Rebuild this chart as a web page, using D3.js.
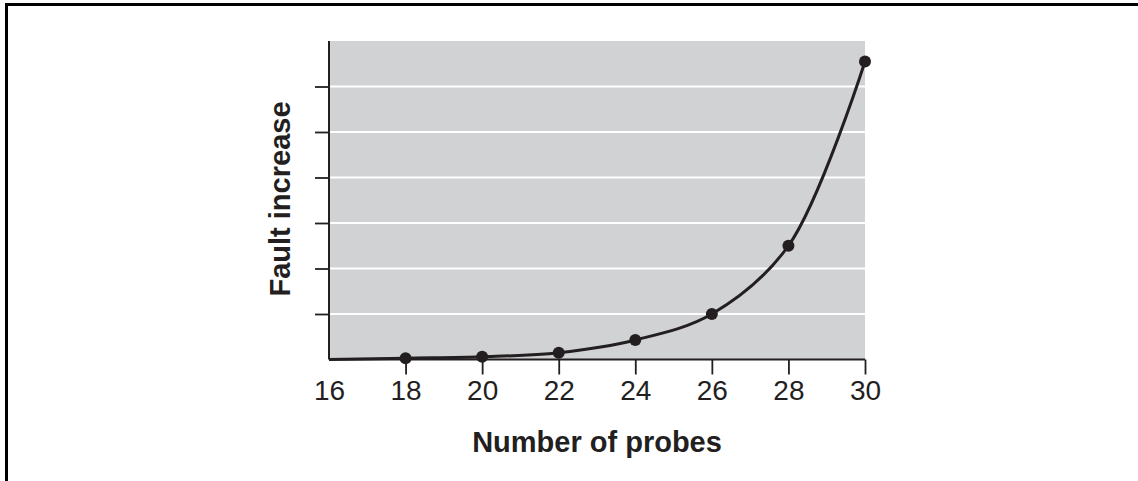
<!DOCTYPE html>
<html>
<head>
<meta charset="utf-8">
<script src="https://cdn.jsdelivr.net/npm/d3@7"></script>
<style>
  body { margin: 0; background: #fff; }
  text { font-family: "Liberation Sans", Arial, sans-serif; fill: #231f20; }
</style>
</head>
<body>
<div id="chart"></div>
<script>
// data
var probes = [16, 18, 20, 22, 24, 26, 28, 30];
var faultIncrease = [0.0, 0.03, 0.06, 0.15, 0.43, 1.0, 2.5, 6.55];
var xTicks = [16, 18, 20, 22, 24, 26, 28, 30];
var yTicks = [1, 2, 3, 4, 5, 6];

var svgWidth = 1138;
var svgHeight = 481;

var margin = { top: 41, left: 329 };
var width = 865 - 329;
var height = 359.5 - 41;

var svg = d3.select("#chart")
  .append("svg")
  .attr("width", svgWidth)
  .attr("height", svgHeight);

// outer frame (runs off right and bottom)
svg.append("rect")
  .attr("x", 6.5)
  .attr("y", 4.5)
  .attr("width", 1300)
  .attr("height", 700)
  .attr("fill", "none")
  .attr("stroke", "#000")
  .attr("stroke-width", 3);

var chartGroup = svg.append("g")
  .attr("transform", `translate(${margin.left}, ${margin.top})`);

var xScale = d3.scaleLinear().domain([16, 30]).range([0, width]);
var yScale = d3.scaleLinear().domain([0, 7]).range([height, 0]);

// grey plot background
chartGroup.append("rect")
  .attr("width", width)
  .attr("height", height)
  .attr("fill", "#d1d2d4");

// white grid lines
chartGroup.selectAll(".grid")
  .data(yTicks)
  .enter()
  .append("line")
  .attr("x1", 0)
  .attr("x2", width)
  .attr("y1", d => yScale(d))
  .attr("y2", d => yScale(d))
  .attr("stroke", "#fff")
  .attr("stroke-width", 2);

// y axis: line and ticks, no labels
var leftAxis = d3.axisLeft(yScale).tickValues(yTicks).tickSize(14).tickFormat("");
var yAxis = chartGroup.append("g").call(leftAxis);
yAxis.select(".domain").remove();
yAxis.selectAll("line").attr("stroke", "#231f20").attr("stroke-width", 1.8);
chartGroup.append("line")
  .attr("x1", 0).attr("x2", 0)
  .attr("y1", 0).attr("y2", height)
  .attr("stroke", "#231f20")
  .attr("stroke-width", 2);

// x axis
var bottomAxis = d3.axisBottom(xScale).tickValues(xTicks).tickSize(15).tickPadding(6);
var xAxis = chartGroup.append("g")
  .attr("transform", `translate(0, ${height})`)
  .call(bottomAxis);
xAxis.select(".domain").remove();
xAxis.selectAll("line")
  .attr("stroke", "#231f20")
  .attr("stroke-width", 1.8)
  .attr("display", d => d === 16 ? "none" : null);
xAxis.selectAll("text")
  .attr("font-size", "28px")
  .attr("font-family", "Liberation Sans, Arial, sans-serif")
  .attr("fill", "#231f20");
chartGroup.append("line")
  .attr("x1", 0).attr("x2", width)
  .attr("y1", height).attr("y2", height)
  .attr("stroke", "#231f20")
  .attr("stroke-width", 2);

// the curve
var points = probes.map((p, i) => ({ x: p, y: faultIncrease[i] }));
var line = d3.line()
  .x(d => xScale(d.x))
  .y(d => yScale(d.y))
  .curve(d3.curveCatmullRom.alpha(0.5));

chartGroup.append("path")
  .datum(points)
  .attr("d", line)
  .attr("fill", "none")
  .attr("stroke", "#231f20")
  .attr("stroke-width", 3);

chartGroup.selectAll("circle")
  .data(points.slice(1))
  .enter()
  .append("circle")
  .attr("cx", d => xScale(d.x))
  .attr("cy", d => yScale(d.y))
  .attr("r", 6)
  .attr("fill", "#231f20");

// axis titles
svg.append("text")
  .attr("x", 597)
  .attr("y", 452)
  .attr("text-anchor", "middle")
  .attr("font-size", "29px")
  .attr("font-weight", "bold")
  .text("Number of probes");

svg.append("text")
  .attr("transform", "translate(290, 199) rotate(-90)")
  .attr("text-anchor", "middle")
  .attr("font-size", "29px")
  .attr("font-weight", "bold")
  .text("Fault increase");
</script>
</body>
</html>
